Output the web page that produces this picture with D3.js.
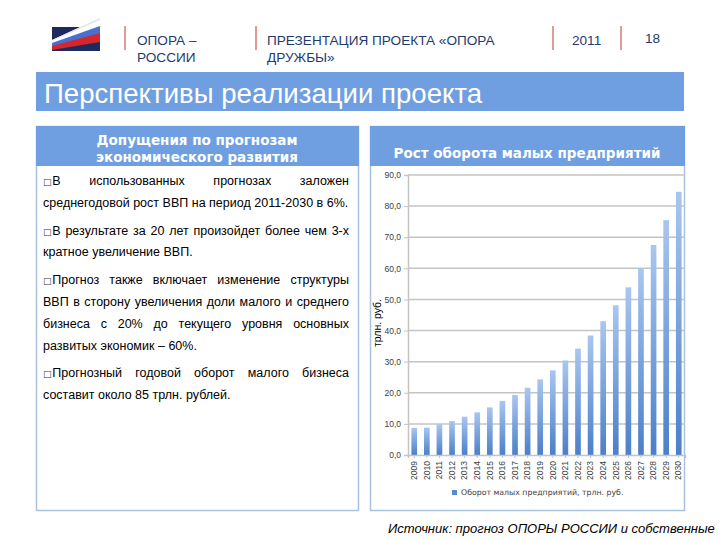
<!DOCTYPE html>
<html><head><meta charset="utf-8">
<script src="https://cdn.jsdelivr.net/npm/d3@7"></script>
<style>body{margin:0;background:#fff}svg{display:block}</style>
</head><body>
<script>
const years = ["2009","2010","2011","2012","2013","2014","2015","2016","2017","2018","2019","2020","2021","2022","2023","2024","2025","2026","2027","2028","2029","2030"];
const turnover = [8.7,8.8,9.9,10.9,12.3,13.7,15.3,17.4,19.3,21.6,24.3,27.2,30.4,34.2,38.4,43.0,48.1,53.9,60.1,67.5,75.5,84.6];
const yTicks = [0,10,20,30,40,50,60,70,80,90];
const seriesName = "Оборот малых предприятий, трлн. руб.";
const yLabel = "трлн. руб.";
const pageTitle = "Перспективы реализации проекта";
const leftHeader = ["Допущения по прогнозам","экономического развития"];
const rightHeader = "Рост оборота малых предприятий";
const paragraphs = [
  ["В использованных прогнозах заложен","среднегодовой рост ВВП на период 2011-2030 в 6%."],
  ["В результате за 20 лет произойдет более чем 3-х","кратное увеличение ВВП."],
  ["Прогноз также включает изменение структуры","ВВП в сторону увеличения доли малого и среднего","бизнеса с 20% до текущего уровня основных","развитых экономик – 60%."],
  ["Прогнозный годовой оборот малого бизнеса","составит около 85 трлн. рублей."]
];
const sourceText = ["Источник: прогноз ОПОРЫ РОССИИ и собственные","расчеты"];

const W=720,H=540;
const svg=d3.select("body").append("svg").attr("width",W).attr("height",H);
const blue="#6f9fe0";
const font="'Liberation Sans', Arial, sans-serif";

const defs=svg.append("defs");
const g=defs.append("linearGradient").attr("id","barg").attr("x1",0).attr("y1",0).attr("x2",0).attr("y2",1);
g.append("stop").attr("offset","0%").attr("stop-color","#a9c6ef");
g.append("stop").attr("offset","100%").attr("stop-color","#4b7fc9");

// logo
const logo=svg.append("g");
logo.append("rect").attr("x",52).attr("y",27).attr("width",48).attr("height",24).attr("fill","#1f2a5c");
logo.append("polygon").attr("points","52,40 100,18 100,30 52,46").attr("fill","#ffffff");
logo.append("polygon").attr("points","52,40 100,18 100,20 52,41").attr("fill","#dfe6f2");
logo.append("polygon").attr("points","52,43 100,26 100,34 52,47").attr("fill","#4a6fd0");
logo.append("polygon").attr("points","52,46 100,33 100,42 52,50").attr("fill","#d4262b");

[125,256,553,621].forEach(x=>{
  svg.append("line").attr("x1",x).attr("x2",x).attr("y1",26).attr("y2",50).attr("stroke","#c0392b").attr("stroke-width",1);
});
const hdr=[{x:137,y:45,t:"ОПОРА –"},{x:137,y:62,t:"РОССИИ"},{x:267,y:45,t:"ПРЕЗЕНТАЦИЯ ПРОЕКТА «ОПОРА"},{x:267,y:62,t:"ДРУЖБЫ»"},{x:572,y:45,t:"2011"},{x:645,y:43,t:"18"}];
hdr.forEach(d=>svg.append("text").attr("x",d.x).attr("y",d.y).attr("font-family",font).attr("font-size",13.6).attr("fill","#1f3b6e").text(d.t));

svg.append("rect").attr("x",36).attr("y",72).attr("width",648).attr("height",39).attr("fill",blue);
svg.append("text").attr("x",44).attr("y",103).attr("font-family",font).attr("font-size",27.6).attr("fill","#fff").text(pageTitle);

function panel(x,w){
  svg.append("rect").attr("x",x+0.5).attr("y",126.5).attr("width",w).attr("height",384).attr("fill","#fff").attr("stroke","#a9c2de").attr("stroke-width",1.5);
  svg.append("rect").attr("x",x).attr("y",126).attr("width",w+1).attr("height",40).attr("fill",blue);
}
panel(36,322);
panel(370,314);
leftHeader.forEach((t,i)=>svg.append("text").attr("x",197).attr("y",145+i*17).attr("text-anchor","middle").attr("font-family","'DejaVu Sans', sans-serif").attr("font-weight","bold").attr("font-size",13.5).attr("fill","#fff").text(t));
svg.append("text").attr("x",527).attr("y",158).attr("text-anchor","middle").attr("font-family","'DejaVu Sans', sans-serif").attr("font-weight","bold").attr("font-size",13.5).attr("fill","#fff").text(rightHeader);

// justified body text
const tx0=43, tx1=349;
let yy=185;
const body=svg.append("g").attr("font-family",font).attr("font-size",12.5).attr("fill","#000");
paragraphs.forEach(par=>{
  par.forEach((line,li)=>{
    const words=line.split(" ");
    const isLast = li===par.length-1;
    let startX=tx0;
    if(li===0){
      const b=body.append("text").attr("x",tx0).attr("y",yy).attr("font-size",9).attr("font-family","'DejaVu Sans', sans-serif").attr("fill","#333").text("\u25A1");
      startX=tx0+b.node().getComputedTextLength()+0.8;
    }
    const nodes=words.map(w=>body.append("text").attr("y",yy).text(w));
    const widths=nodes.map(n=>n.node().getComputedTextLength());
    const total=d3.sum(widths);
    const gap = (isLast||words.length<2) ? 3.5 : (tx1-startX-total)/(words.length-1);
    let x=startX;
    nodes.forEach((n,i)=>{n.attr("x",x); x+=widths[i]+gap;});
    yy+=21.8;
  });
  yy+=6;
});

// chart
const x=d3.scaleBand().domain(years).range([408,685]).paddingInner(0.55).paddingOuter(0.27);
const y=d3.scaleLinear().domain([0,90]).range([455,175]);
const chart=svg.append("g");
chart.append("g").selectAll("line").data(yTicks.filter(d=>d>0)).join("line")
  .attr("x1",408).attr("x2",685).attr("y1",d=>y(d)).attr("y2",d=>y(d)).attr("stroke","#c4c4c4").attr("stroke-width",1.5);
const ya=chart.append("g").attr("transform","translate(408,0)").call(d3.axisLeft(y).tickValues(yTicks).tickSize(4).tickFormat(d=>d3.format(".1f")(d).replace(".",",")));
ya.select(".domain").attr("stroke","#c4c4c4").attr("stroke-width",1.5);
ya.selectAll(".tick line").attr("stroke","#c4c4c4");
ya.selectAll("text").attr("font-family",font).attr("font-size",8.5).attr("fill","#404040");
chart.append("g").selectAll("rect").data(turnover).join("rect")
  .attr("x",(d,i)=>x(years[i])).attr("width",x.bandwidth())
  .attr("y",d=>y(d)).attr("height",d=>y(0)-y(d)).attr("fill","url(#barg)");
const xa=chart.append("g").attr("transform","translate(0,455)").call(d3.axisBottom(x).tickSize(3));
xa.select(".domain").attr("stroke","#c4c4c4").attr("stroke-width",1.5);
xa.selectAll(".tick line").attr("stroke","#c4c4c4");
xa.selectAll("text").attr("font-family",font).attr("font-size",8.5).attr("fill","#404040")
  .attr("transform","rotate(-90)").attr("text-anchor","end").attr("x",-6).attr("y",0).attr("dy","0.32em");
svg.append("text").attr("transform","translate(381,323) rotate(-90)").attr("text-anchor","middle").attr("font-family",font).attr("font-size",10.5).attr("fill","#000").text(yLabel);
svg.append("rect").attr("x",452).attr("y",490).attr("width",5).attr("height",5).attr("fill","#5a8bd0");
svg.append("text").attr("x",461).attr("y",495).attr("font-family","'DejaVu Sans', sans-serif").attr("font-size",7.8).attr("fill","#404040").text(seriesName);

sourceText.forEach((t,i)=>svg.append("text").attr("x",388).attr("y",533+i*15).attr("font-family",font).attr("font-style","italic").attr("font-size",13).attr("fill","#000").text(t));
</script>
</body></html>
